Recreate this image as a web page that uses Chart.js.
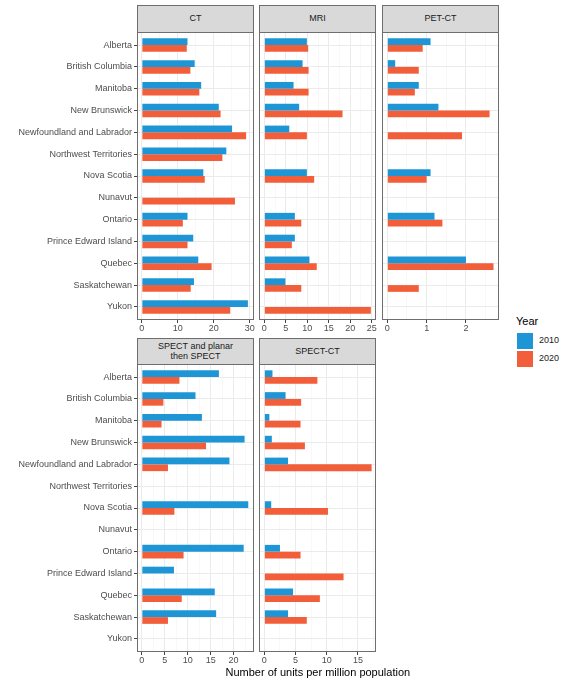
<!DOCTYPE html>
<html>
<head>
<meta charset="utf-8">
<script src="https://cdn.jsdelivr.net/npm/chart.js@4.4.1/dist/chart.umd.min.js"></script>
<style>
body { margin: 0; background: #fff; width: 570px; height: 684px; position: relative; overflow: hidden; font-family: "Liberation Sans", Arial, sans-serif; }
canvas { position: absolute; }
.strip { position: absolute; box-sizing: border-box; background: #D9D9D9; border: 1px solid #6e6e6e; color: #1a1a1a; font-size: 9px; line-height: 9.5px; display: flex; align-items: center; justify-content: center; text-align: center; }
.lab { position: absolute; white-space: nowrap; color: #000; }
.key { position: absolute; width: 16px; height: 16px; }
</style>
</head>
<body>
<script>
// data (units per million population)
const provinces = ["Alberta", "British Columbia", "Manitoba", "New Brunswick", "Newfoundland and Labrador",
  "Northwest Territories", "Nova Scotia", "Nunavut", "Ontario", "Prince Edward Island", "Quebec",
  "Saskatchewan", "Yukon"];
const years = ["2010", "2020"];

const ct2010 = [12.7, 14.7, 16.5, 21.4, 25.1, 23.5, 17.1, null, 12.7, 14.3, 15.7, 14.5, 29.5];
const ct2020 = [12.5, 13.5, 16.0, 21.9, 29.0, 22.4, 17.5, 25.9, 11.4, 12.7, 19.4, 13.6, 24.6];
const mri2010 = [9.9, 8.9, 6.8, 8.1, 5.8, null, 9.9, null, 7.1, 7.1, 10.5, 4.9, null];
const mri2020 = [10.2, 10.3, 10.3, 18.2, 9.9, null, 11.6, null, 8.6, 6.4, 12.2, 8.6, 24.8];
const pet2010 = [1.1, 0.2, 0.8, 1.3, null, null, 1.1, null, 1.2, null, 2.0, null, null];
const pet2020 = [0.9, 0.8, 0.7, 2.6, 1.9, null, 1.0, null, 1.4, null, 2.7, 0.8, null];
const spect2010 = [16.8, 11.7, 13.1, 22.4, 19.1, null, 23.2, null, 22.2, 7.0, 15.9, 16.2, null];
const spect2020 = [8.2, 4.7, 4.3, 14.0, 5.7, null, 7.1, null, 9.1, null, 8.7, 5.7, null];
const spectct2010 = [1.3, 3.4, 0.8, 1.2, 3.8, null, 1.1, null, 2.5, null, 4.6, 3.8, null];
const spectct2020 = [8.5, 5.9, 5.8, 6.5, 17.2, null, 10.2, null, 5.8, 12.7, 8.9, 6.8, null];

const BLUE = "#1E96D6", ORANGE = "#F35E3A";
const FONT = "'Liberation Sans', Arial, sans-serif";
const PW = 117, PH = 288, PADT = 8;

const panels = [
  { title: "CT", a: ct2010, b: ct2020, min: -1.35, max: 31.2, major: 10, minor: 5, left: 137, top: 32, stripTop: 5, first: true },
  { title: "MRI", a: mri2010, b: mri2020, min: -1.25, max: 26.0, major: 5, minor: 2.5, left: 259, top: 32, stripTop: 5 },
  { title: "PET-CT", a: pet2010, b: pet2020, min: -0.135, max: 2.84, major: 1, minor: 0.5, left: 382, top: 32, stripTop: 5 },
  { title: "SPECT and planar<br>then SPECT", a: spect2010, b: spect2020, min: -1.05, max: 24.45, major: 5, minor: 2.5, left: 137, top: 364, stripTop: 338, first: true },
  { title: "SPECT-CT", a: spectct2010, b: spectct2020, min: -0.86, max: 17.9, major: 5, minor: 2.5, left: 259, top: 364, stripTop: 338 }
];

const frame = {
  id: "frame",
  afterDraw(chart) {
    const a = chart.chartArea, c = chart.ctx;
    c.save();
    c.strokeStyle = "#6e6e6e";
    c.lineWidth = 1;
    c.strokeRect(a.left + 0.5, a.top + 0.5, a.right - a.left - 1, a.bottom - a.top - 1);
    c.restore();
  }
};

function isMajor(v, step) {
  return Math.abs(v / step - Math.round(v / step)) < 1e-6;
}

panels.forEach(p => {
  const strip = document.createElement("div");
  strip.className = "strip";
  strip.style.left = p.left + "px";
  strip.style.top = p.stripTop + "px";
  strip.style.width = PW + "px";
  strip.style.height = (p.top - p.stripTop + 1) + "px";
  strip.innerHTML = p.title;
  document.body.appendChild(strip);

  const padL = p.first ? 0 : 10;
  const axisW = p.first ? p.left : 0;
  const cv = document.createElement("canvas");
  const cw = (p.first ? p.left : padL) + PW + 15;
  const ch = PADT + PH + 22;
  cv.width = cw; cv.height = ch;
  cv.style.left = (p.first ? 0 : p.left - padL) + "px";
  cv.style.top = (p.top - PADT) + "px";
  document.body.appendChild(cv);

  const xticks = [];
  for (let v = 0; v <= p.max + 1e-9; v += p.minor) xticks.push(Math.round(v * 1000) / 1000);

  new Chart(cv, {
    type: "bar",
    data: {
      datasets: [
        { label: years[0], backgroundColor: BLUE, data: p.a.map((v, i) => ({ x: v, y: i })) },
        { label: years[1], backgroundColor: ORANGE, data: p.b.map((v, i) => ({ x: v, y: i })) }
      ]
    },
    options: {
      indexAxis: "y",
      responsive: false,
      animation: false,
      devicePixelRatio: 1,
      categoryPercentage: 0.62,
      barPercentage: 1,
      layout: { padding: { left: padL, right: 15, top: PADT, bottom: 0 } },
      plugins: { legend: { display: false }, tooltip: { enabled: false } },
      scales: {
        x: {
          type: "linear",
          min: p.min, max: p.max,
          afterBuildTicks: s => { s.ticks = xticks.map(v => ({ value: v })); },
          afterFit: s => { s.height = 22; },
          border: { display: false },
          grid: {
            color: c => isMajor(c.tick.value, p.major) ? "#EBEBEB" : "#F5F5F5",
            lineWidth: c => isMajor(c.tick.value, p.major) ? 1 : 0.7,
            tickColor: c => isMajor(c.tick.value, p.major) ? "#444" : "rgba(0,0,0,0)",
            tickLength: 3
          },
          ticks: {
            autoSkip: false, maxRotation: 0, padding: 0,
            color: "#4d4d4d", font: { family: FONT, size: 9 },
            callback: v => isMajor(v, p.major) ? String(v) : ""
          }
        },
        y: {
          type: "linear",
          reverse: true,
          offset: false,
          min: -0.6, max: provinces.length - 0.4,
          afterBuildTicks: s => { s.ticks = provinces.map((n, i) => ({ value: i })); },
          afterFit: s => { s.width = axisW; },
          border: { display: false },
          grid: { offset: false, color: "#EBEBEB", lineWidth: 1, drawTicks: !!p.first, tickColor: "#444", tickLength: 3 },
          ticks: {
            display: !!p.first, autoSkip: false, padding: 2,
            color: "#4d4d4d", font: { family: FONT, size: 9 },
            callback: v => provinces[v]
          }
        }
      }
    },
    plugins: [frame]
  });
});

// legend and axis title
function addText(txt, x, y, size, color) {
  const d = document.createElement("div");
  d.className = "lab";
  d.textContent = txt;
  d.style.left = x + "px"; d.style.top = y + "px";
  d.style.fontSize = size + "px";
  if (color) d.style.color = color;
  document.body.appendChild(d);
  return d;
}
addText("Year", 516, 315, 11);
[BLUE, ORANGE].forEach((col, i) => {
  const k = document.createElement("div");
  k.className = "key";
  k.style.left = "517px";
  k.style.top = (333 + i * 18) + "px";
  k.style.background = col;
  document.body.appendChild(k);
  addText(years[i], 539, 335 + i * 18, 9, "#1a1a1a");
});
const t = addText("Number of units per million population", 0, 666, 11);
t.style.left = (318 - t.offsetWidth / 2) + "px";
</script>
</body>
</html>
